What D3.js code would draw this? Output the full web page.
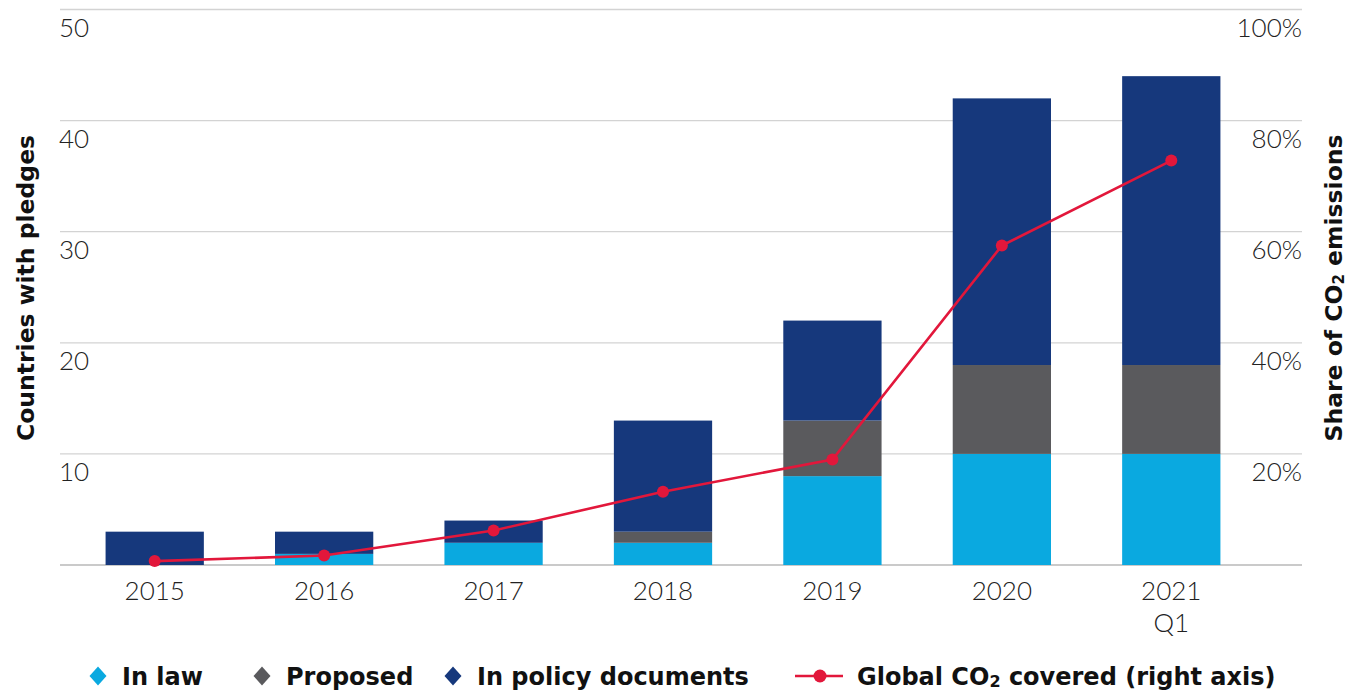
<!DOCTYPE html>
<html><head><meta charset="utf-8">
<script src="https://cdn.jsdelivr.net/npm/d3@7"></script>
<style>
html,body{margin:0;padding:0;background:#fff;}
svg{display:block;}
.tick-l{font-family:"Lato","Open Sans",sans-serif;font-weight:300;font-size:26px;fill:#222;}
.ttl{font-family:"DejaVu Sans",sans-serif;font-weight:700;font-size:23.5px;fill:#111;}
.leg{font-family:"DejaVu Sans",sans-serif;font-weight:700;font-size:24px;fill:#111;}
</style></head>
<body>
<svg id="c" width="1348" height="692"></svg>
<script>
const years = ["2015","2016","2017","2018","2019","2020","2021"];
const yearSub = ["","","","","","","Q1"];
const inLaw = [0,1,2,2,8,10,10];
const proposed = [0,0,0,1,5,8,8];
const inPolicy = [3,2,2,10,9,24,26];
const co2Share = [0.7,1.7,6.2,13.2,19,57.5,72.8];
const leftTicks = [10,20,30,40,50];
const rightTicks = [20,40,60,80,100];
const seriesNames = ["In law","Proposed","In policy documents"];

const colors = ["#0aa9e0","#5a5a5d","#16387c"];
const red = "#e2173b";

const svg = d3.select("#c");
const gx0 = 60, gx1 = 1302;
const y = d3.scaleLinear().domain([0,50]).range([565,9.5]);
const yR = d3.scaleLinear().domain([0,100]).range([565,9.5]);
const x = d3.scaleBand().domain(years).range([70,1256]).paddingInner(0.42).paddingOuter(0.21);

// gridlines
svg.append("g").selectAll("line").data([0].concat(leftTicks)).join("line")
  .attr("x1",gx0).attr("x2",gx1).attr("y1",d=>y(d)).attr("y2",d=>y(d))
  .attr("stroke",d=>d===0?"#b9b9b9":"#d3d3d3").attr("stroke-width",1.3);

// left tick labels
svg.append("g").selectAll("text").data(leftTicks).join("text")
  .attr("class","tick-l").attr("x",gx0-1).attr("y",d=>y(d)+27).text(d=>d);
// right tick labels
svg.append("g").selectAll("text").data(rightTicks).join("text")
  .attr("class","tick-l").attr("x",gx1).attr("text-anchor","end").attr("y",d=>yR(d)+27).text(d=>d+"%");

// stacked bars
const rows = years.map((yr,i)=>({year:yr, a:inLaw[i], b:proposed[i], c:inPolicy[i]}));
const stack = d3.stack().keys(["a","b","c"])(rows);
svg.append("g").selectAll("g").data(stack).join("g").attr("fill",(d,i)=>colors[i])
  .selectAll("rect").data(d=>d).join("rect")
  .attr("x",d=>x(d.data.year)).attr("width",x.bandwidth())
  .attr("y",d=>y(d[1])).attr("height",d=>y(d[0])-y(d[1]));

// x labels
const xl = svg.append("g");
xl.selectAll("text.yr").data(years).join("text").attr("class","tick-l")
  .attr("x",d=>x(d)+x.bandwidth()/2).attr("y",600).attr("text-anchor","middle").text(d=>d);
xl.selectAll("text.sub").data(years.map((d,i)=>({d,s:yearSub[i]})).filter(o=>o.s)).join("text").attr("class","tick-l")
  .attr("x",o=>x(o.d)+x.bandwidth()/2).attr("y",632).attr("text-anchor","middle").text(o=>o.s);

// line
const pts = years.map((yr,i)=>[x(yr)+x.bandwidth()/2, yR(co2Share[i])]);
svg.append("path").attr("d",d3.line()(pts)).attr("fill","none").attr("stroke",red).attr("stroke-width",2.6);
svg.append("g").selectAll("circle").data(pts).join("circle")
  .attr("cx",d=>d[0]).attr("cy",d=>d[1]).attr("r",6).attr("fill",red);

// axis titles
svg.append("text").attr("class","ttl").attr("text-anchor","middle")
  .attr("transform","translate(34,288) rotate(-90)").text("Countries with pledges");
svg.append("text").attr("class","ttl").attr("text-anchor","middle")
  .attr("transform","translate(1342,288) rotate(-90)").html("Share of CO<tspan font-size='15' dy='2'>2</tspan><tspan dy='-2'> emissions</tspan>");

// legend
const ly = 676;
const leg = svg.append("g");
const legItems = [{x:98,c:colors[0],t:seriesNames[0]},{x:262,c:colors[1],t:seriesNames[1]},{x:453,c:colors[2],t:seriesNames[2]}];
const dia = "M0,-9.5L8.5,0L0,9.5L-8.5,0Z";
legItems.forEach(it=>{
  leg.append("path").attr("d",dia).attr("transform",`translate(${it.x},${ly})`).attr("fill",it.c);
  leg.append("text").attr("class","leg").attr("x",it.x+24).attr("y",ly+9).text(it.t);
});
leg.append("line").attr("x1",795).attr("x2",843).attr("y1",ly).attr("y2",ly).attr("stroke",red).attr("stroke-width",2.6);
leg.append("circle").attr("cx",820).attr("cy",ly).attr("r",6.5).attr("fill",red);
leg.append("text").attr("class","leg").attr("x",857).attr("y",ly+9)
  .html("Global CO<tspan font-size='16' dy='2'>2</tspan><tspan dy='-2'> covered (right axis)</tspan>");
</script>
</body></html>
